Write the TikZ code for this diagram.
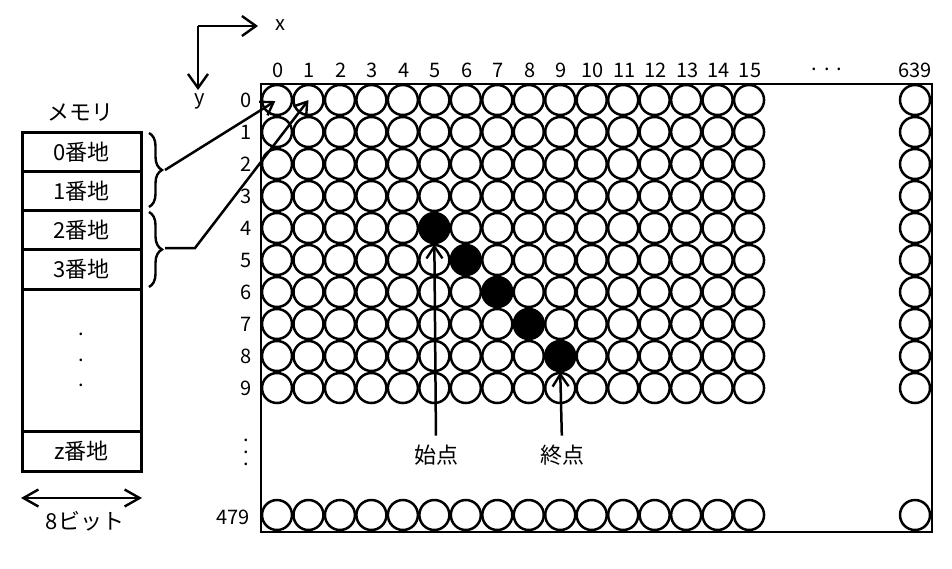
\documentclass[tikz,border=0pt]{standalone}
\usepackage{fontspec}
\setmainfont{Noto Sans CJK JP}
\usetikzlibrary{arrows.meta,decorations.pathreplacing}
\newcommand{\tridots}[1]{.\llap{\raisebox{#1}{.}}\llap{\raisebox{-#1}{.}}}
\begin{document}
\begin{tikzpicture}[x=1pt,y=-1pt,line width=2.5pt,
  pix/.style={circle,draw,line width=2.5pt,minimum size=30pt,inner sep=0pt},
  pixon/.style={pix,fill=black},
  num/.style={font=\fontsize{20}{20}\selectfont,inner sep=0pt},
  jp/.style={font=\fontsize{22}{22}\selectfont,inner sep=1pt},
  cell/.style={draw,line width=2.5pt,minimum width=119pt,inner sep=0pt,anchor=north west,font=\fontsize{22}{22}\selectfont},
  barb/.style={-{Straight Barb[length=12pt,width=16pt,line width=2.4pt]}},
  bigbarb/.style={-{Straight Barb[length=14pt,width=20pt,line width=2.4pt]}},
  dbarb/.style={{Straight Barb[length=15pt,width=17pt,line width=2.4pt]}-{Straight Barb[length=15pt,width=17pt,line width=2.4pt]}},
  brc/.style={decorate,decoration={brace,amplitude=13pt,aspect=0.5},line width=2.4pt},
  ]
\useasboundingbox (0,0) rectangle (952,568);

% axes
\coordinate (o) at (198,26);
\coordinate (xe) at (258,26);
\coordinate (ye) at (198,90);
\draw[bigbarb] (o) -- (xe);
\draw[bigbarb] (o) -- (ye);
\node[num] (xl) at (280,25) {x};
\node[num] (yl) at (200,101) {y};

% screen frame
\draw (261,84) rectangle (932,532);

% pixels
\foreach \c in {0,...,15}{
  \foreach \r in {0,...,9}{
    \pgfmathtruncatemacro\isOn{((\r==\c-1)&&(\c>4)&&(\c<10))?1:0}
    \ifnum\isOn=1
      \node[pixon] (p-\c-\r) at ({277+31.47*\c},{100+32*\r}) {};
    \else
      \node[pix] (p-\c-\r) at ({277+31.47*\c},{100+32*\r}) {};
    \fi
  }
  \node[pix] (p-\c-479) at ({277+31.47*\c},515) {};
  \node[num] (cx-\c) at ({278+31.47*\c},70) {\c};
}
\foreach \r in {0,...,9}{
  \node[pix] (p-639-\r) at (915,{100+32*\r}) {};
  \node[num] (ry-\r) at (246,{100+32*\r}) {\r};
}
\node[pix] (p-639-479) at (915,515) {};
\node[num] (cx-639) at (915,70) {639};
\node[num,anchor=base] (hdots) at (827,70) {.\hspace{7pt}.\hspace{7pt}.};
\node[num,anchor=base] (vdots) at (246,453) {\tridots{12pt}};
\node[num] (ry-479) at (233,517) {479};

% start / end
\node[jp] (start) at (436,455) {始点};
\node[jp] (end) at (562,455) {終点};
\draw[barb,shorten <=7pt] (start.north) -- (p-5-4.south);
\draw[barb,shorten <=7pt] (end.north) -- (p-9-8.south);

% memory
\node[jp] (memt) at (80,113) {メモリ};
\node[cell,minimum height=39pt] (m0) at (21,131) {0番地};
\node[cell,minimum height=39pt] (m1) at (21,170) {1番地};
\node[cell,minimum height=39pt] (m2) at (21,209) {2番地};
\node[cell,minimum height=40pt] (m3) at (21,248) {3番地};
\node[cell,minimum height=142pt,font=\fontsize{20}{20}\selectfont] (md) at (21,288) {\tridots{25.5pt}\hspace{8pt}};
\node[cell,minimum height=40pt] (mz) at (21,430) {z番地};

\coordinate (bl) at (21,498);
\coordinate (br) at (142,498);
\draw[dbarb] (bl) -- (br);
\node[jp] (bits) at (85,521) {8ビット};

% braces and pointers
\draw[brc] (149,133) -- (149,207);
\draw[brc] (149,212) -- (149,287);
\coordinate (b1) at (165,170);
\coordinate (b2) at (165,248);
\coordinate (bend) at (195,248);
\draw[barb,shorten >=2pt] (b1) -- (p-0-0.center);
\draw[barb] (b2) -- (bend) -- (p-1-0.center);
\end{tikzpicture}
\end{document}
